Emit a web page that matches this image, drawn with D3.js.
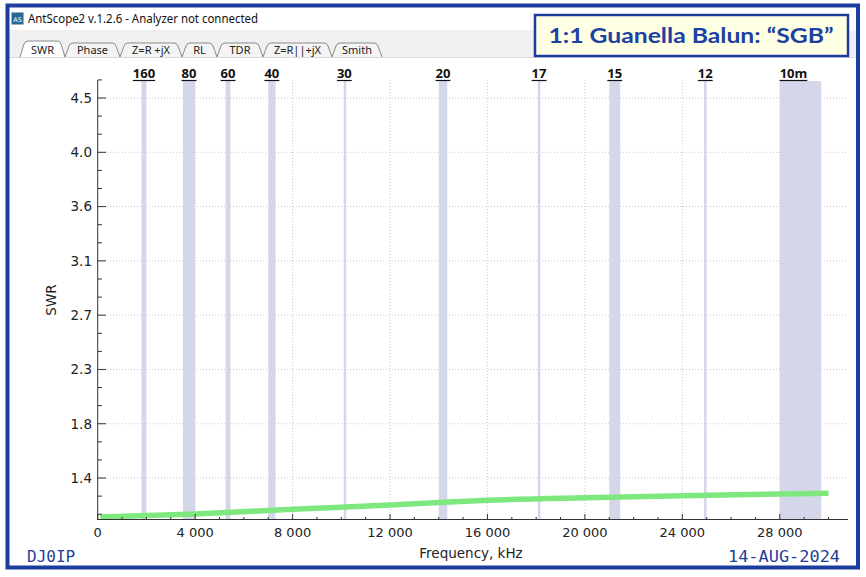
<!DOCTYPE html>
<html lang="en">
<head>
<meta charset="UTF-8">
<title>SWR - 1:1 Guanella Balun</title>
<script src="https://cdn.jsdelivr.net/npm/d3@7/dist/d3.min.js"></script>
<style>
  html, body { margin: 0; padding: 0; background: #fff; }
  svg { display: block; }
</style>
</head>
<body>
<div id="chart"></div>
<script>
// measured SWR sweep (kHz, SWR)
const freqs = [100, 4000, 8000, 12000, 14000, 16000, 20000, 24000, 28000, 30000];
const swr   = [1.064, 1.089, 1.127, 1.161, 1.182, 1.200, 1.221, 1.237, 1.251, 1.256];

// ham bands (kHz)
const bandNames = ["160", "80", "60", "40", "30", "20", "17", "15", "12", "10m"];
const bandLo    = [1800, 3500, 5250, 7000, 10100, 14000, 18068, 21000, 24890, 28000];
const bandHi    = [2000, 4000, 5450, 7300, 10150, 14350, 18168, 21450, 24990, 29700];

// axis ticks
const xTicks = [0, 4000, 8000, 12000, 16000, 20000, 24000, 28000];
const yTicks = [1.38, 1.82, 2.26, 2.70, 3.14, 3.58, 4.02, 4.46];
const yTickLabels = ["1.4", "1.8", "2.3", "2.7", "3.1", "3.6", "4.0", "4.5"];

const tabNames = ["SWR", "Phase", "Z=R +jX", "RL", "TDR", "Z=R||+jX", "Smith"];
const tabEdges = [20, 65, 120, 182, 217, 263, 332, 382];

const W = 866, H = 577;
const blue = "#1b3d9d";

const svg = d3.select("#chart").append("svg")
    .attr("width", W).attr("height", H);

svg.append("rect").attr("width", W).attr("height", H).attr("fill", "#fff");

// window chrome
svg.append("rect").attr("x", 9).attr("y", 30).attr("width", 847).attr("height", 27)
    .attr("fill", "#f0f0f0");
svg.append("line").attr("x1", 9).attr("x2", 856).attr("y1", 57.5).attr("y2", 57.5)
    .attr("stroke", "#dadada");

svg.append("rect").attr("x", 11.5).attr("y", 12.5).attr("width", 12).attr("height", 12)
    .attr("fill", "#2a6794");
svg.append("text").attr("x", 17.5).attr("y", 21.5).attr("text-anchor", "middle")
    .attr("font-family", "DejaVu Sans").attr("font-size", 6.5).attr("fill", "#fff")
    .text("AS");
svg.append("text").attr("x", 28).attr("y", 23)
    .attr("font-family", "'Noto Sans', 'Open Sans', sans-serif").attr("font-size", 12)
    .attr("fill", "#111").attr("textLength", 230).attr("lengthAdjust", "spacingAndGlyphs")
    .text("AntScope2 v.1.2.6 - Analyzer not connected");

// tabs
tabNames.forEach((name, i) => {
    const a = tabEdges[i], b = tabEdges[i + 1];
    const top = i === 0 ? 41 : 43;
    const p = d3.path();
    p.moveTo(a, 57);
    p.lineTo(a + 4, top + 3);
    p.quadraticCurveTo(a + 5, top, a + 8, top);
    p.lineTo(b - 8, top);
    p.quadraticCurveTo(b - 5, top, b - 4, top + 3);
    p.lineTo(b, 57);
    svg.append("path").attr("d", p.toString())
        .attr("fill", i === 0 ? "#fff" : "#f4f4f4")
        .attr("stroke", "#8a8a8a").attr("stroke-width", 1);
    svg.append("text").attr("x", (a + b) / 2).attr("y", 54)
        .attr("text-anchor", "middle")
        .attr("font-family", "'Noto Sans', sans-serif").attr("font-size", 11)
        .attr("fill", "#222").text(name);
});

// scales
const x = d3.scaleLinear().domain([0, 30800]).range([97.7, 848]);
const y = d3.scaleLinear().domain([1.048, 4.606]).range([519, 80]);

// grid
const grid = svg.append("g").attr("stroke", "#c9c9c9").attr("stroke-dasharray", "1,2");
xTicks.slice(1).forEach(v => {
    grid.append("line").attr("x1", x(v)).attr("x2", x(v)).attr("y1", 80).attr("y2", 519);
});
yTicks.forEach(v => {
    grid.append("line").attr("x1", 98).attr("x2", 848).attr("y1", y(v)).attr("y2", y(v));
});

// bands
const bandTop = 81;
svg.append("g").selectAll("rect").data(bandNames).join("rect")
    .attr("x", (d, i) => x(bandLo[i]))
    .attr("width", (d, i) => Math.max(2.5, x(bandHi[i]) - x(bandLo[i])))
    .attr("y", bandTop).attr("height", 519 - bandTop)
    .attr("fill", "#d4d6ea");

const lbl = svg.append("g");
bandNames.forEach((name, i) => {
    const cx = (x(bandLo[i]) + x(bandHi[i])) / 2 - (i === 9 ? 7 : 0);
    const t = lbl.append("text").attr("x", cx).attr("y", 78)
        .attr("text-anchor", "middle")
        .attr("font-family", "'Open Sans', 'Liberation Sans', sans-serif")
        .attr("font-weight", "bold").attr("font-size", 13).attr("fill", "#111")
        .text(name);
    const w = t.node().getComputedTextLength();
    lbl.append("line").attr("x1", cx - w / 2).attr("x2", cx + w / 2)
        .attr("y1", 80.5).attr("y2", 80.5).attr("stroke", "#111").attr("stroke-width", 1.2);
});

// SWR trace
const line = d3.line().x((d, i) => x(freqs[i])).y(d => y(d)).curve(d3.curveMonotoneX);
svg.append("path").datum(swr).attr("d", line)
    .attr("fill", "none").attr("stroke", "#7ee87e").attr("stroke-width", 5.5)
    .attr("stroke-linecap", "butt");

// axes
const axisFont = "'DejaVu Sans', Verdana, sans-serif";
const ax = svg.append("g").attr("stroke", "#333").attr("stroke-width", 1);
ax.append("line").attr("x1", 97.7).attr("x2", 97.7).attr("y1", 80).attr("y2", 519.5);
ax.append("line").attr("x1", 97.2).attr("x2", 848).attr("y1", 519.5).attr("y2", 519.5);

const yStep = yTicks[1] - yTicks[0];
const yMinor = [];
for (let v = yTicks[0] - yStep / 3 * 2; v < 4.62; v += yStep / 3) yMinor.push(v);
yMinor.forEach((v, k) => {
    if (k % 3 === 2) return;
    ax.append("line").attr("x1", 97.7).attr("x2", 102).attr("y1", y(v)).attr("y2", y(v));
});
yTicks.forEach((v, i) => {
    ax.append("line").attr("x1", 97.7).attr("x2", 106).attr("y1", y(v)).attr("y2", y(v));
    svg.append("text").attr("x", 92).attr("y", y(v)).attr("dy", "0.36em")
        .attr("text-anchor", "end").attr("font-family", axisFont)
        .attr("font-size", 13.5).attr("fill", "#222").text(yTickLabels[i]);
});

for (let v = 1000; v <= 30000; v += 1000) {
    if (v % 4000 === 0) continue;
    ax.append("line").attr("x1", x(v)).attr("x2", x(v)).attr("y1", 519.5).attr("y2", 517);
}
xTicks.forEach(v => {
    ax.append("line").attr("x1", x(v)).attr("x2", x(v)).attr("y1", 519.5).attr("y2", 514);
    svg.append("text").attr("x", x(v)).attr("y", 537)
        .attr("text-anchor", "middle").attr("font-family", axisFont)
        .attr("font-size", 13).attr("fill", "#222")
        .text(d3.format(",")(v).replace(/,/g, " "));
});

svg.append("text").attr("x", 471).attr("y", 558).attr("text-anchor", "middle")
    .attr("font-family", axisFont).attr("font-size", 13.5).attr("fill", "#222")
    .text("Frequency, kHz");
svg.append("text").attr("transform", "translate(56,300) rotate(-90)")
    .attr("text-anchor", "middle").attr("font-family", axisFont)
    .attr("font-size", 13.5).attr("fill", "#222").text("SWR");

// annotations
svg.append("text").attr("x", 27).attr("y", 561.5)
    .attr("font-family", "'DejaVu Sans Mono', monospace").attr("font-size", 16)
    .attr("fill", "#1f3e99").text("DJ0IP");
svg.append("text").attr("x", 840).attr("y", 561.5).attr("text-anchor", "end")
    .attr("font-family", "'DejaVu Sans Mono', monospace").attr("font-size", 16)
    .attr("fill", "#1f3e99").attr("textLength", 112).attr("lengthAdjust", "spacingAndGlyphs")
    .text("14-AUG-2024");

svg.append("rect").attr("x", 535).attr("y", 15).attr("width", 313).attr("height", 41)
    .attr("fill", "#ffffe3").attr("stroke", blue).attr("stroke-width", 2.5);
svg.append("text").attr("x", 691).attr("y", 42.5).attr("text-anchor", "middle")
    .attr("font-family", "Lato, 'Open Sans', sans-serif").attr("font-weight", "bold")
    .attr("font-size", 20).attr("fill", "#1c40a3")
    .attr("textLength", 285).attr("lengthAdjust", "spacingAndGlyphs")
    .text("1:1 Guanella Balun: \u201CSGB\u201D");

// outer frame
svg.append("rect").attr("x", 7.5).attr("y", 5.5).attr("width", 850.5).attr("height", 562)
    .attr("fill", "none").attr("stroke", blue).attr("stroke-width", 4);
</script>
</body>
</html>
